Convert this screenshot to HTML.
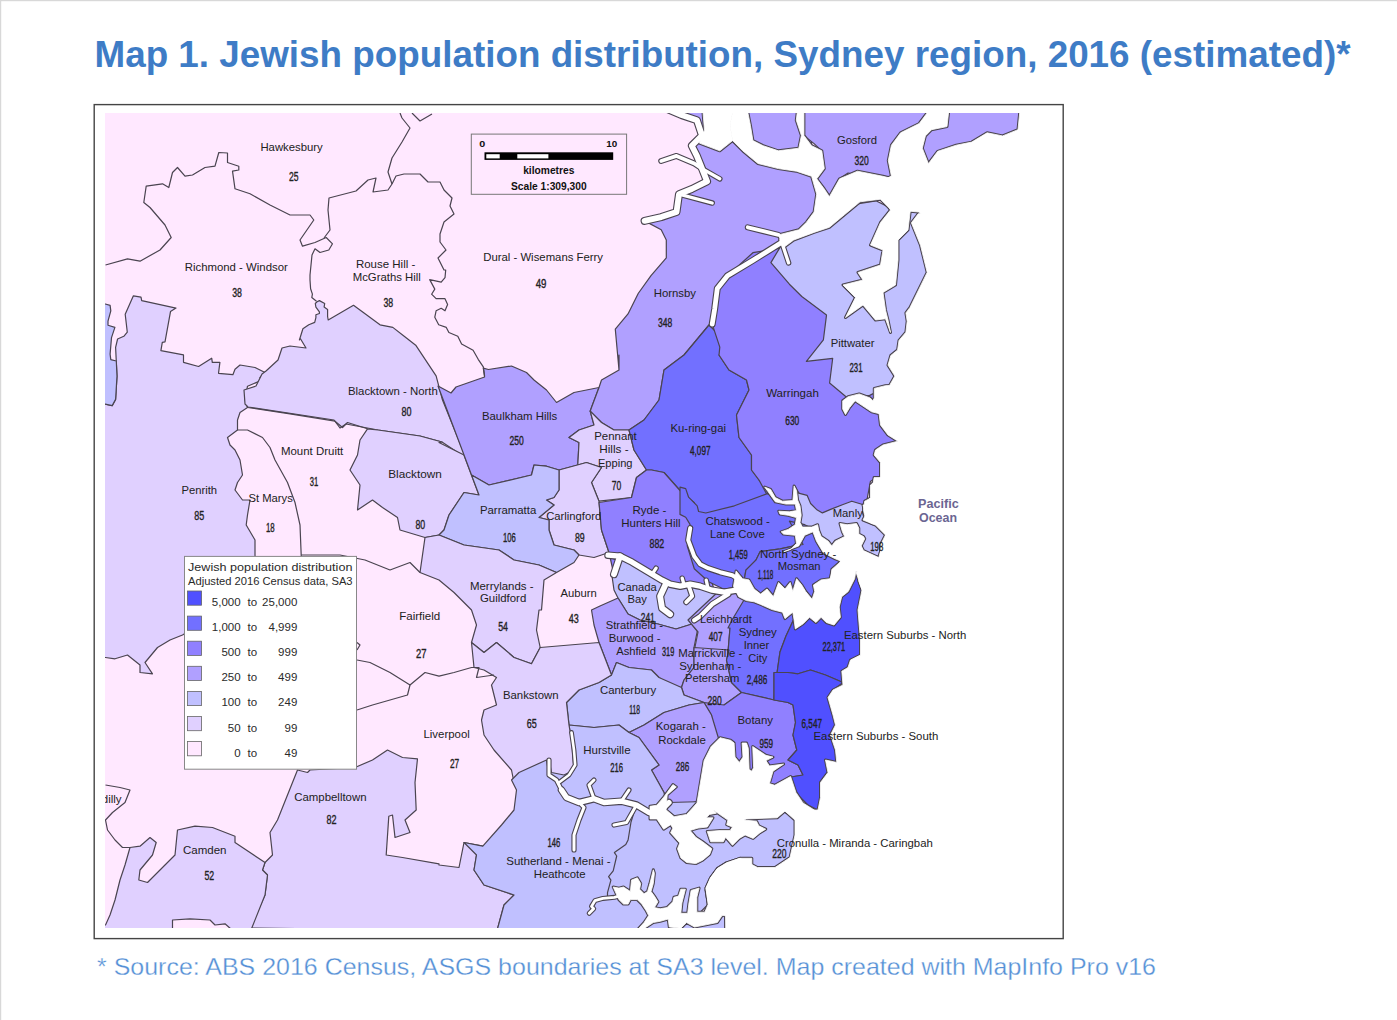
<!DOCTYPE html>
<html><head><meta charset="utf-8"><style>
html,body{margin:0;padding:0;background:#fff;}
body{width:1397px;height:1020px;overflow:hidden;position:relative;}
svg{position:absolute;left:0;top:0;}
text{font-family:"Liberation Sans",sans-serif;}
</style></head><body>
<svg width="1397" height="1020" viewBox="0 0 1397 1020">
<rect x="0" y="0" width="1397" height="1020" fill="#fff"/>
<rect x="0" y="0" width="1397" height="1.2" fill="#d8d8d8"/>
<rect x="0" y="0" width="1.2" height="1020" fill="#d8d8d8"/>
<text x="94.5" y="67" font-size="36" font-weight="bold" fill="#3e7cc6" textLength="1256" lengthAdjust="spacingAndGlyphs">Map 1. Jewish population distribution, Sydney region, 2016 (estimated)*</text>
<text x="97" y="974.5" font-size="24" fill="#5590d6" stroke="#fff" stroke-width="0.3" textLength="1059" lengthAdjust="spacingAndGlyphs">* Source: ABS 2016 Census, ASGS boundaries at SA3 level. Map created with MapInfo Pro v16</text>
<defs><clipPath id="mc"><rect x="105" y="113" width="918" height="815"/></clipPath></defs>
<rect x="94.2" y="104.6" width="969" height="834" fill="#fff" stroke="#444" stroke-width="1.4"/>
<g clip-path="url(#mc)" stroke="#4a4450" stroke-linejoin="round">
<rect x="105" y="113" width="918" height="815" fill="#ffe8ff" stroke="none"/>

<polygon points="117.0,376.1 115.6,347.3 117.6,339.0 123.8,336.3 127.3,332.2 125.2,314.3 133.4,295.8 141.0,297.2 141.7,300.6 176.0,308.1 170.5,311.6 165.0,341.8 162.3,342.4 160.9,350.7 183.5,354.8 183.5,362.3 198.6,366.5 211.7,358.2 212.3,362.3 219.9,362.3 218.5,373.3 232.9,374.7 235.0,369.2 240.0,365.0 255.0,367.5 265.0,372.5 260.0,377.5 262.5,380.0 247.5,386.2 245.0,400.0 247.5,407.5 240.0,412.5 237.5,420.0 237.5,430.0 227.5,437.5 230.0,445.0 235.0,450.0 240.0,460.0 242.5,475.0 237.5,482.5 235.0,490.0 242.5,500.0 250.0,500.0 247.5,515.0 246.2,525.0 255.0,540.0 255.0,555.0 257.5,610.0 250.0,640.0 184.5,633.8 182.5,635.0 170.0,640.0 157.5,647.5 145.0,662.5 152.5,673.8 140.0,672.5 140.0,665.0 127.5,655.0 115.0,658.8 105.5,657.5 90.0,657.5 90.0,405.0 105.3,404.2 112.2,405.6 115.6,399.4" fill="#e0d0ff" stroke-width="1.2"/>
<polygon points="95.0,304.0 105.3,304.0 110.1,305.4 110.8,310.9 108.0,321.2 108.0,325.3 114.9,327.4 111.5,337.6 110.1,354.1 110.8,359.6 116.3,361.0 117.0,376.1 115.6,399.4 112.2,405.6 105.3,404.2 95.0,404.2" fill="#c0c0ff" stroke-width="1.2"/>
<polygon points="299.4,340.0 302.9,328.8 308.8,324.7 314.7,322.4 315.9,317.6 315.9,314.7 319.4,313.5 319.4,311.8 315.9,307.1 315.3,303.5 317.1,301.8 319.4,300.6 324.7,303.5 324.1,307.1 327.6,309.4 327.6,316.5 328.2,320.0 353.5,305.3 380.0,324.8 392.8,327.4 404.2,336.3 415.7,345.2 436.1,375.8 442.5,400.1 466.0,458.0 442.0,442.0 420.0,436.0 378.0,430.0 346.0,424.0 340.0,428.0 334.0,420.0 248.0,407.0 245.0,404.0 244.0,390.0 256.0,386.0 262.0,374.0 266.0,371.0 278.0,360.0 282.0,348.0 290.0,346.0 306.0,348.0 300.0,338.0" fill="#e0d0ff" stroke-width="1.2"/>
<polygon points="367.5,428.8 360.0,440.0 357.5,455.0 350.0,470.0 360.0,485.0 357.5,510.0 372.5,500.0 382.5,507.5 397.5,517.5 400.0,530.0 425.0,537.5 439.0,535.0 444.0,530.0 449.0,515.0 459.0,500.0 464.0,492.5 479.0,495.0 471.5,475.0 464.0,455.0 439.0,442.5 442.0,442.0 420.0,436.0 378.0,430.0" fill="#e0d0ff" stroke-width="1.2"/>
<polygon points="438.0,386.0 451.0,393.0 456.0,387.0 484.6,377.0 483.3,368.2 488.4,369.5 511.5,366.0 526.5,372.5 534.0,380.0 546.5,390.0 556.5,402.5 574.0,392.5 599.0,387.5 591.5,407.5 590.2,411.2 594.0,425.0 579.0,430.0 569.0,437.5 579.0,442.5 577.8,465.0 559.0,470.0 546.5,466.2 534.0,465.0 531.5,475.0 489.0,485.0 471.5,475.0 464.0,455.0" fill="#b0a0ff" stroke-width="1.2"/>
<polygon points="619.0,370.0 615.3,329.2 628.0,313.9 638.2,293.5 651.0,275.7 666.3,257.8 666.3,240.0 661.2,229.8 644.6,220.9 661.2,217.1 676.5,212.0 679.0,194.1 691.8,189.0 707.1,181.4 702.0,168.6 696.9,155.9 691.8,145.7 702.0,135.5 696.9,120.2 681.6,115.1 663.7,110.0 663.7,99.8 811.6,99.8 811.6,173.7 816.7,194.1 814.1,212.0 806.5,222.2 798.8,229.8 778.4,234.9 783.5,247.6 752.9,260.4 727.5,275.7 717.3,288.4 714.7,308.8 712.2,324.1 709.0,325.0 696.5,340.0 684.0,355.0 664.0,370.0 659.0,400.0 644.0,420.0 629.0,430.0 614.0,430.0 601.5,422.5 590.2,411.2 591.5,407.5 599.0,387.5 601.5,380.0 619.0,370.0 619.0,355.0" fill="#b0a0ff" stroke-width="1.2"/>
<polygon points="590.2,411.2 601.5,422.5 614.0,430.0 629.0,430.0 631.5,440.0 634.0,450.0 646.5,470.0 636.5,477.5 631.5,497.5 599.0,501.2 591.5,482.5 601.5,467.5 586.5,462.5 577.8,465.0 579.0,442.5 569.0,437.5 579.0,430.0 594.0,425.0" fill="#e0d0ff" stroke-width="1.2"/>
<polygon points="559.0,470.0 586.5,462.5 601.5,467.5 591.5,482.5 599.0,501.2 601.5,530.0 609.0,552.5 594.0,557.5 579.0,555.0 574.0,550.0 554.0,545.0 549.0,530.0 549.0,520.0 539.0,517.5 554.0,505.0 546.5,500.0 554.0,497.5 559.0,490.0" fill="#e0d0ff" stroke-width="1.2"/>
<polygon points="471.5,475.0 489.0,485.0 531.5,475.0 534.0,465.0 546.5,466.2 559.0,470.0 559.0,490.0 554.0,497.5 546.5,500.0 554.0,505.0 539.0,517.5 549.0,520.0 549.0,530.0 554.0,545.0 574.0,550.0 579.0,555.0 574.0,562.5 556.5,572.5 539.0,565.0 514.0,560.0 499.0,550.0 464.0,545.0 439.0,535.0 444.0,530.0 449.0,515.0 459.0,500.0 464.0,492.5 479.0,495.0" fill="#c0c0ff" stroke-width="1.2"/>
<polygon points="684.0,355.0 664.0,370.0 659.0,400.0 644.0,420.0 629.0,430.0 631.5,440.0 634.0,450.0 646.5,470.0 651.5,470.0 664.0,472.5 684.0,495.0 694.0,502.5 699.0,525.0 709.0,525.0 734.0,520.0 774.0,510.0 771.5,493.8 759.0,480.0 751.5,470.0 751.5,455.0 739.0,437.5 736.5,415.0 749.0,390.0 746.5,380.0 729.0,370.0 719.0,355.0 726.5,355.0 724.0,350.0 719.0,335.0 709.0,325.0 696.5,340.0 684.0,355.0" fill="#7270ff" stroke-width="1.2"/>
<polygon points="719.0,355.0 729.0,370.0 746.5,380.0 749.0,390.0 736.5,415.0 739.0,437.5 751.5,455.0 751.5,470.0 759.0,480.0 766.5,493.8 767.3,492.9 774.5,497.2 783.1,501.5 794.5,500.1 794.5,485.8 798.8,492.9 808.8,505.8 817.4,517.3 831.8,517.3 848.9,514.4 864.7,514.4 867.5,497.2 870.4,481.5 874.7,478.6 930.0,470.0 930.0,300.0 900.0,250.0 860.0,330.0 800.0,270.0 783.5,247.6 752.9,252.7 727.5,275.7 717.3,288.4 714.7,308.8 712.2,324.1 719.8,347.1" fill="#9080ff" stroke-width="1.2"/>
<polygon points="770.9,262.6 780.2,247.1 801.8,234.7 814.1,222.4 832.7,222.4 857.4,203.9 875.9,200.8 888.3,206.9 906.8,210.0 919.2,213.1 931.5,244.0 931.5,321.2 913.0,352.1 894.5,383.0 882.1,389.2 869.7,395.4 848.1,398.5 829.6,383.0 832.7,358.3 806.4,361.4 823.4,339.8 826.5,315.1 801.8,296.5 789.4,284.2" fill="#c0c0ff" stroke-width="1.2"/>
<polygon points="800.2,98.8 800.2,132.8 814.1,143.6 821.9,151.3 823.4,160.6 811.1,176.1 829.6,197.7 838.9,179.1 848.1,173.0 885.2,179.1 891.4,176.1 888.3,160.6 891.4,145.2 900.6,132.8 919.2,123.5 937.7,98.8" fill="#b0a0ff" stroke-width="1.2"/>
<polygon points="950.1,98.8 947.0,126.6 931.5,129.7 925.4,135.9 922.3,148.2 928.4,163.7 937.7,151.3 956.2,145.2 971.7,142.1 987.1,132.8 1002.6,135.9 1018.0,129.7 1021.1,98.8" fill="#b0a0ff" stroke-width="1.2"/>
<polygon points="797.6,492.9 807.1,495.3 810.6,503.5 816.5,509.4 822.4,512.9 830.6,509.4 842.4,504.7 851.8,501.2 863.5,504.7 862.4,511.8 864.7,521.2 871.8,523.5 877.6,524.7 885.9,534.1 884.7,544.7 880.0,552.9 878.8,557.6 863.5,550.6 861.2,545.9 864.7,538.8 863.5,536.5 858.8,534.1 858.8,528.2 856.5,523.5 847.1,524.7 840.0,523.5 842.4,531.8 844.7,536.5 835.3,541.2 831.8,545.9 828.2,541.2 821.2,536.5 818.8,530.6 817.6,524.7 811.8,527.1 802.4,527.1 800.0,522.4 801.2,515.3 800.0,505.9 797.6,500.0 795.3,487.1" fill="#c0c0ff" stroke-width="1.2"/>
<polygon points="646.5,470.0 636.5,477.5 631.5,497.5 599.0,502.5 601.5,530.0 609.0,552.5 614.0,575.0 629.0,590.0 664.0,595.0 689.0,595.0 714.0,590.0 704.0,550.0 689.0,530.0 691.5,520.0 699.0,515.0 694.0,502.5 684.0,495.0 664.0,472.5 651.5,470.0" fill="#9080ff" stroke-width="1.2"/>
<polygon points="680.0,487.2 685.7,488.6 688.6,497.2 697.2,505.8 698.6,511.5 705.8,513.0 734.4,505.8 767.3,493.6 774.5,497.2 783.1,501.5 794.5,501.5 797.4,505.8 798.8,517.3 801.7,527.3 800.3,535.9 794.5,545.9 780.2,548.8 760.2,551.6 755.9,560.2 745.9,570.2 744.4,578.8 737.3,588.8 722.9,588.8 708.6,581.7 694.3,568.8 687.2,545.9 691.5,531.6 690.0,524.4 685.7,517.3 680.0,514.4" fill="#7270ff" stroke-width="1.2"/>
<polygon points="760.2,551.6 780.2,548.8 794.5,545.9 803.1,544.5 789.4,521.2 804.7,524.7 814.1,529.4 821.2,545.9 830.6,555.3 844.7,560.0 842.4,569.4 830.6,580.0 821.2,585.9 812.9,609.4 744.4,600.0 744.4,578.8 745.9,570.2 755.9,560.2" fill="#7270ff" stroke-width="1.2"/>
<polygon points="425.0,537.5 439.0,535.0 464.0,545.0 499.0,550.0 514.0,560.0 539.0,565.0 556.5,572.5 544.0,580.0 541.5,610.0 539.0,610.0 536.5,630.0 540.2,647.5 531.5,663.8 514.0,657.5 496.5,642.5 484.0,652.5 471.5,642.5 476.5,625.0 471.5,610.0 454.0,592.5 439.0,580.0 420.0,572.5 425.0,537.5" fill="#e0d0ff" stroke-width="1.2"/>
<polygon points="606.0,555.0 616.0,560.0 612.0,576.0 614.0,590.0 618.0,598.0 628.0,614.0 640.0,620.0 658.0,624.0 676.0,629.0 692.0,624.0 700.0,620.0 720.0,600.0 736.0,590.0 712.0,590.0 690.0,584.0 670.0,584.0 652.0,574.0 632.0,562.0" fill="#c0c0ff" stroke-width="1.2"/>
<polygon points="600.0,606.0 618.0,598.0 628.0,614.0 640.0,620.0 658.0,624.0 676.0,629.0 692.0,624.0 698.0,632.0 699.0,622.5 694.0,647.5 694.0,667.5 684.0,680.0 681.5,687.5 669.0,685.0 659.0,677.5 651.5,670.0 629.0,667.5 616.5,662.5 611.5,675.0 599.0,642.5 594.0,625.0 591.5,610.0" fill="#b0a0ff" stroke-width="1.2"/>
<polygon points="688.0,620.0 720.0,590.0 740.0,586.0 752.0,600.0 736.0,624.0 730.0,628.0 728.0,652.0 712.0,652.0 694.0,652.0 698.0,632.0" fill="#b0a0ff" stroke-width="1.2"/>
<polygon points="694.0,647.5 729.0,650.0 726.5,660.0 731.5,682.5 741.5,692.5 724.0,705.0 714.0,715.0 704.0,702.5 684.0,695.0 681.5,687.5 684.0,680.0 694.0,667.5" fill="#b0a0ff" stroke-width="1.2"/>
<polygon points="728.0,628.0 732.0,620.0 744.0,600.0 756.0,596.0 760.0,596.0 772.0,596.0 776.0,596.0 780.0,600.0 784.0,600.0 792.0,600.0 794.0,600.0 800.0,606.0 786.0,636.0 780.0,652.0 776.0,680.2 774.0,700.0 741.5,692.5 731.5,682.5 726.5,660.0 729.0,650.0 728.0,652.0 730.0,628.0" fill="#7270ff" stroke-width="1.2"/>
<polygon points="800.0,606.0 812.0,600.0 822.0,600.0 828.0,600.0 832.0,600.0 840.0,600.0 838.0,600.0 840.0,592.0 852.0,570.0 862.0,570.0 862.0,590.0 859.2,625.0 860.5,640.0 860.5,655.0 850.5,660.0 848.0,667.5 841.8,671.2 843.0,682.5 825.5,675.0 810.5,670.0 798.0,673.8 788.0,672.5 774.0,672.5 774.0,700.0 776.0,680.2 780.0,652.0 786.0,636.0" fill="#5050ff" stroke-width="1.2"/>
<polygon points="704.0,702.5 724.0,705.0 741.5,692.5 774.0,700.0 788.0,702.5 793.0,705.0 795.5,722.5 793.0,735.0 796.8,750.0 788.0,760.0 798.0,765.0 803.0,775.0 788.0,777.5 778.0,790.0 788.0,835.0 711.5,835.0 711.5,715.0" fill="#9080ff" stroke-width="1.2"/>
<polygon points="774.0,672.5 788.0,672.5 798.0,673.8 810.5,670.0 825.5,675.0 843.0,682.5 833.0,690.0 828.0,697.5 833.0,715.0 835.5,725.0 830.5,735.0 835.5,750.0 836.8,762.5 825.5,760.0 828.0,772.5 820.5,782.5 820.5,797.5 818.0,810.0 808.0,805.0 798.0,795.0 793.0,785.0 788.0,777.5 803.0,775.0 798.0,765.0 788.0,760.0 796.8,750.0 793.0,735.0 795.5,722.5 793.0,705.0 788.0,702.5 774.0,700.0" fill="#5050ff" stroke-width="1.2"/>
<polygon points="566.5,702.5 579.0,690.0 599.0,682.5 611.5,675.0 616.5,662.5 629.0,667.5 651.5,670.0 659.0,677.5 681.5,687.5 684.0,695.0 704.0,702.5 689.0,705.0 664.0,712.5 644.0,725.0 629.0,732.5 619.0,725.0 594.0,727.5 569.0,725.0" fill="#c0c0ff" stroke-width="1.2"/>
<polygon points="629.0,732.5 644.0,725.0 664.0,712.5 689.0,705.0 704.0,702.5 711.5,715.0 719.0,740.0 704.0,765.0 699.0,800.0 676.5,810.0 671.5,815.0 664.0,792.5 651.5,770.0 659.0,765.0 639.0,737.5" fill="#b0a0ff" stroke-width="1.2"/>
<polygon points="569.0,725.0 594.0,727.5 619.0,725.0 629.0,732.5 639.0,737.5 659.0,765.0 651.5,770.0 664.0,792.5 671.5,830.0 659.0,830.0 651.5,830.0 639.0,825.0 626.5,825.0 599.0,825.0 579.0,825.0 561.5,820.0 559.0,805.0 546.5,785.0 549.0,760.0 571.5,740.0" fill="#c0c0ff" stroke-width="1.2"/>
<polygon points="484.0,652.5 496.5,642.5 514.0,657.5 531.5,663.8 540.2,647.5 599.0,642.5 611.5,675.0 599.0,682.5 579.0,690.0 566.5,702.5 569.0,725.0 571.5,740.0 574.0,770.0 564.0,775.0 551.5,772.5 549.0,760.0 544.0,780.0 531.5,785.0 514.0,782.5 511.5,770.0 494.0,750.0 484.0,735.0 481.5,720.0 484.0,710.0 496.5,705.0 491.5,685.0 496.5,677.5 484.0,670.0 474.0,667.5 471.5,642.5" fill="#e0d0ff" stroke-width="1.2"/>
<polygon points="250.0,928.0 265.0,895.0 267.5,875.0 262.5,870.0 265.0,862.5 272.5,855.0 270.0,832.5 277.5,820.0 297.5,770.0 307.5,772.5 310.0,770.0 355.0,767.5 372.5,760.0 387.5,750.0 402.5,757.5 417.5,758.8 415.0,782.5 416.2,810.0 405.0,820.0 410.0,832.5 395.0,837.5 392.5,815.0 388.8,816.2 386.2,855.0 402.5,857.5 439.0,863.8 439.0,865.0 459.0,867.5 464.0,842.5 482.8,846.2 476.5,855.0 474.0,870.0 484.0,885.0 514.0,895.0 504.0,905.0 496.5,932.5 599.0,932.5" fill="#e0d0ff" stroke-width="1.2"/>
<polygon points="90.0,932.5 90.0,925.0 105.5,925.0 110.0,915.0 115.0,900.0 120.0,880.0 125.0,865.0 130.0,847.5 140.0,846.2 150.0,837.5 156.2,842.5 152.5,855.0 140.0,870.0 138.8,880.0 147.5,882.5 160.0,870.0 175.0,855.0 177.5,830.0 195.0,826.2 212.5,827.5 235.0,836.2 235.0,842.5 265.0,862.5 262.5,870.0 267.5,875.0 265.0,895.0 250.0,932.5" fill="#e0d0ff" stroke-width="1.2"/>
<polygon points="172.5,920.0 190.0,918.8 210.0,920.0 215.0,925.0 225.0,923.8 235.0,932.5 172.5,932.5" fill="#ffe8ff" stroke-width="1.2"/>
<polygon points="464.0,842.5 482.8,846.2 501.5,825.0 514.0,810.0 516.5,790.0 511.5,780.0 519.0,772.5 546.5,760.0 549.0,775.0 556.5,780.0 561.5,790.0 566.5,797.5 579.0,802.5 594.0,798.8 604.0,802.5 621.5,801.2 636.5,805.0 649.0,812.5 656.5,815.0 669.0,802.5 760.0,800.0 800.0,820.0 795.0,820.0 795.0,835.0 790.0,857.5 775.0,867.5 757.5,867.5 742.5,862.5 725.0,867.5 710.0,880.0 705.0,890.0 707.5,905.0 700.0,912.5 725.2,915.0 725.2,932.5 496.5,932.5 504.0,905.0 514.0,895.0 484.0,885.0 474.0,870.0 476.5,855.0" fill="#c0c0ff" stroke-width="1.2"/>
<polyline points="105.5,265.0 127.5,258.8 140.0,261.2 160.0,250.0 171.2,237.5 165.0,225.0 150.0,207.5 143.8,202.5 146.2,186.2 162.5,183.8 168.8,187.5 172.5,172.5 177.5,167.5 185.0,176.2 192.5,175.0 205.0,167.5 215.0,166.2 218.8,152.5 227.5,153.0 227.5,162.5 238.8,166.2 238.8,170.0 232.5,171.2 235.0,188.8 250.0,193.8 270.0,205.0 290.0,215.0 310.0,215.0 313.8,220.0 300.0,240.0 302.5,246.2 315.0,242.5 326.2,237.5 332.5,243.8 328.8,250.0 320.0,252.5 315.0,248.8 312.0,255.0 310.0,275.0 310.0,280.0 310.6,288.8 312.4,294.1 311.8,297.6 316.5,301.2" fill="none" stroke-width="1.2"/>
<polyline points="324.0,238.0 330.0,230.0 328.0,210.0 329.0,198.0 356.0,191.0 368.0,180.0 376.0,178.0 373.0,192.0 388.0,190.0 392.0,184.0 396.0,176.0 404.0,174.0 420.0,174.0 428.0,182.0 440.0,182.0 444.0,190.0 452.0,198.0 450.0,206.0 454.0,214.0 444.0,222.0 440.0,234.0 440.0,242.0 446.0,250.0 438.0,258.0 444.0,270.0 445.7,270.0 445.0,277.7 441.2,282.1 429.7,279.6 434.8,289.1 431.6,294.2 436.1,298.7 445.0,298.7 447.6,304.4 445.0,310.8 441.2,308.3 436.1,310.8 434.8,317.2 438.7,324.8 446.3,327.4 448.9,332.5 457.8,336.3 461.6,344.0 473.1,350.3 478.2,359.3 483.3,366.9 484.6,375.8" fill="none" stroke-width="1.2"/>
<polyline points="392.0,184.0 388.0,172.0 392.0,158.0 402.0,142.0 410.0,128.0 402.0,118.0 400.0,113.0" fill="none" stroke-width="1.2"/>
<polyline points="412.0,113.0 420.0,121.0 432.0,114.0" fill="none" stroke-width="1.2"/>
<polyline points="237.5,430.0 247.5,430.0 262.5,437.5 270.0,447.5 275.0,460.0 287.5,482.5 295.0,502.5 300.0,525.0 301.2,555.0 302.0,580.0" fill="none" stroke-width="1.2"/>
<polyline points="247.5,407.5 290.0,413.8 335.0,421.2 342.5,427.5 347.5,422.5 367.5,428.8" fill="none" stroke-width="1.2"/>
<polyline points="301.2,555.0 340.0,555.0 365.0,560.0 390.0,570.0 410.0,562.5 420.0,572.5" fill="none" stroke-width="1.2"/>
<polyline points="357.0,642.5 360.0,645.0 357.0,650.0" fill="none" stroke-width="1.2"/>
<polyline points="357.0,660.0 370.0,662.5 390.0,672.5 410.0,685.0 425.0,672.5 439.0,676.2 454.0,672.5 471.5,667.5 479.0,667.5 476.5,677.5 494.0,675.0" fill="none" stroke-width="1.2"/>
<polyline points="357.0,710.0 372.5,705.0 390.0,700.0 407.5,695.0 410.0,685.0" fill="none" stroke-width="1.2"/>
<polyline points="636.0,806.0 631.0,822.0 628.1,840.0 625.8,844.6 614.4,852.6 616.7,856.0 613.2,870.9 608.6,876.7 610.9,880.1 607.5,892.7 607.5,897.3" fill="none" stroke-width="1.2"/>
<polyline points="105.5,785.0 120.0,787.5 130.0,790.0 125.0,802.5 112.5,812.5 105.5,820.0 107.5,830.0 115.0,840.0 122.5,847.5 130.0,847.5" fill="none" stroke-width="1.2"/>
<polygon points="1100.0,90.0 1100.0,950.0 726.0,950.0 725.5,915.6 708.3,904.1 706.0,888.1 710.6,877.8 717.4,868.6 726.6,862.9 740.0,858.3 757.5,867.5 775.0,867.5 790.0,857.5 795.0,835.0 795.0,820.0 785.0,811.2 818.0,810.0 820.5,797.5 820.5,782.5 828.0,772.5 825.5,760.0 836.8,762.5 835.5,750.0 830.5,735.0 835.5,725.0 833.0,715.0 828.0,697.5 833.0,690.0 843.0,685.0 841.8,671.2 848.0,667.5 850.5,660.0 860.5,655.0 860.5,640.0 859.2,625.0 858.0,610.0 862.0,590.0 856.0,572.0 880.5,557.5 880.5,545.0 885.5,535.0 875.5,525.0 863.0,520.0 865.5,515.0 863.0,505.0 865.5,505.0 870.5,497.5 870.5,485.0 880.5,477.5 880.5,462.5 874.2,455.0 875.5,450.0 883.0,445.0 898.0,441.2 888.0,435.0 880.5,425.0 878.0,405.0 885.5,386.2 889.4,385.7 894.9,376.1 888.0,365.1 890.8,355.5 897.6,350.0 899.0,340.4 905.9,332.2 907.2,321.2 905.9,312.9 910.0,307.4 927.2,272.4 920.5,245.3 911.4,222.8 918.2,213.8 952.0,209.3 1000.0,180.0 1100.0,150.0" fill="#fff" stroke-width="3.0"/>
<polygon points="702.0,99.8 735.1,99.8 730.0,125.3 732.6,140.6 719.8,150.8 699.4,143.1 704.5,130.4" fill="#fff" stroke-width="3.0"/>
<polygon points="732.6,140.6 742.7,150.8 758.0,163.5 778.4,168.6 796.3,171.2 811.6,176.3 816.7,194.1 814.1,212.0 806.5,222.2 798.8,229.8 778.4,234.9 783.5,247.6 793.7,240.0 814.1,232.4 829.4,227.3 844.7,214.5 860.0,201.8 880.4,199.2 890.6,209.4 918.6,212.0 950.0,232.4 950.0,173.7 893.1,178.8 882.9,176.3 857.5,171.2 839.6,178.8 829.4,196.7 824.3,189.0 816.7,178.8 824.3,168.6 821.8,150.8 811.6,145.7 803.9,135.5 803.9,99.8 798.8,99.8 796.3,120.2 801.4,135.5 798.8,148.2 778.4,150.8 763.1,145.7 752.9,140.6 750.4,125.3 745.3,99.8 735.1,99.8 730.0,125.3" fill="#fff" stroke-width="3.0"/>
<polygon points="891.4,145.2 900.6,132.8 919.2,123.5 937.7,98.8 950.1,98.8 947.0,126.6 931.5,129.7 925.4,135.9 922.3,148.2 928.4,163.7 937.7,151.3 956.2,145.2 971.7,142.1 987.1,132.8 1002.6,135.9 1018.0,129.7 1021.1,98.8 1048.9,98.8 1048.9,216.2 956.2,211.6 925.4,203.9 885.2,179.1 891.4,176.1 888.3,160.6" fill="#fff" stroke-width="3.0"/>
<polygon points="842.7,400.8 848.2,396.7 859.2,393.9 870.2,398.0 872.9,400.8 874.3,398.0 874.3,388.4 885.3,385.7 889.4,385.7 893.5,417.2 871.6,411.8 855.1,400.8 849.6,407.6 845.5,414.5 842.7,409.0" fill="#fff" stroke-width="3.0"/>
<polygon points="888.0,205.0 890.5,210.0 880.5,222.5 870.5,245.0 883.0,250.0 880.5,265.0 858.0,272.5 863.0,280.0 843.0,285.0 855.5,297.5 845.5,317.5 863.0,305.0 875.5,320.0 885.5,318.8 890.5,332.5 888.0,320.0 885.5,310.0 883.0,292.5 895.5,285.0 898.0,260.0 898.0,240.0 908.0,230.0 910.5,208.8 905.0,198.0" fill="#fff" stroke-width="3.0"/>
<polygon points="736.1,570.9 742.5,578.7 749.0,579.9 754.1,589.0 760.6,594.1 767.0,589.0 773.4,596.7 778.6,582.5 785.0,589.0 790.2,582.5 792.8,591.5 796.6,578.7 801.8,585.1 805.7,591.5 812.1,599.3 814.7,591.5 813.4,585.1 821.1,579.9 830.1,578.7 832.7,569.6 839.2,564.5 841.7,558.0 854.6,552.9 867.5,559.3 855.9,570.9 854.6,578.7 848.2,591.5 841.7,596.7 839.2,607.0 840.4,617.3 834.0,625.0 826.3,622.5 821.1,617.3 816.0,622.5 809.5,617.3 803.1,623.8 795.3,628.9 794.1,619.9 792.8,612.2 785.0,618.6 782.5,612.2 772.2,609.6 760.6,604.4 754.1,601.8 746.4,600.6 738.7,596.7 733.5,586.4" fill="#fff" stroke-width="3.0"/>
<polygon points="764.7,487.1 770.6,489.4 775.3,497.6 782.4,501.2 792.9,500.6 794.1,485.9 796.5,490.6 797.6,500.0 800.0,505.9 801.2,515.3 800.0,522.4 802.4,527.1 811.8,527.1 817.6,524.7 818.8,530.6 821.2,536.5 828.2,541.2 831.8,545.9 835.3,541.2 844.7,536.5 842.4,531.8 840.0,523.5 847.1,524.7 856.5,523.5 858.8,528.2 858.8,534.1 863.5,536.5 864.7,538.8 861.2,545.9 863.5,550.6 878.8,557.6 880.0,552.9 884.7,544.7 885.9,534.1 877.6,524.7 871.8,523.5 865.9,520.0 863.5,510.6 864.7,501.2 871.8,497.6 872.9,484.7 874.1,477.6 907.1,477.6 907.1,609.4 862.4,609.4 862.4,590.6 858.8,581.2 860.0,571.8 854.1,570.6 852.9,581.2 842.4,591.8 835.3,609.4 812.9,609.4 815.3,591.8 821.2,583.5 830.6,580.0 831.8,569.4 841.2,561.2 835.3,558.8 823.5,552.9 816.5,541.2 812.9,531.8 804.7,535.3 798.8,545.9 783.5,551.8 790.6,549.4 796.5,543.5 795.3,535.3 783.5,534.1 781.2,531.8 788.2,529.4 795.3,524.7 796.5,517.6 788.2,515.3 780.0,514.1 778.8,511.2 789.4,511.8 796.5,510.6 795.3,504.1 785.9,504.1 775.3,501.8 768.2,491.8" fill="#fff" stroke-width="3.0"/>
<polygon points="720.0,737.7 730.6,740.3 734.1,743.0 735.0,757.1 739.4,762.4 743.0,757.1 742.1,743.0 746.5,743.0 748.3,748.3 749.1,769.4 751.8,771.2 753.6,767.7 752.7,746.5 765.9,755.3 773.0,757.1 765.9,760.6 769.4,765.9 783.6,764.1 773.0,771.2 769.4,783.6 774.7,785.3 790.6,776.5 795.9,792.4 803.0,803.0 817.1,811.8 836.5,813.6 796.6,814.4 792.0,814.4 785.2,810.9 777.1,817.8 746.2,818.9 743.9,820.1 756.5,821.2 758.8,825.8 765.7,829.2 760.0,832.7 753.1,838.4 745.1,835.0 739.3,838.4 732.5,845.3 725.6,837.3 723.3,841.8 710.7,841.8 707.3,831.5 721.0,830.4 730.2,830.4 732.5,827.0 726.7,824.7 727.9,820.1 713.0,809.8 716.4,813.2 709.6,814.4 706.1,817.8 713.0,817.8 707.3,827.0 698.1,828.1 690.1,830.4 695.8,837.3 702.7,841.8 711.8,848.7 709.6,854.4 702.7,860.2 695.8,863.6 686.7,862.5 680.9,857.9 677.5,848.7 679.8,843.0 670.6,832.7 672.9,828.1 670.6,824.7 663.7,829.2 656.9,818.9 650.0,818.9 650.0,806.3 656.9,805.2 663.7,797.2 672.9,784.6 676.3,786.9 667.2,794.9 666.0,809.8 674.1,816.7 686.7,814.4 697.0,802.9 704.1,760.6 711.2,746.5" fill="#fff" stroke-width="3.0"/>
<polygon points="613.2,887.0 618.9,888.1 623.5,887.0 630.4,891.5 631.5,880.1 637.3,877.8 640.7,883.5 639.6,889.2 644.1,893.8 647.6,891.5 649.9,883.5 653.3,869.8 654.4,873.2 653.3,883.5 651.0,891.5 654.4,896.1 657.9,901.8 654.4,907.6 660.2,908.7 667.0,907.6 672.8,901.8 673.9,897.3 678.5,896.1 680.8,889.2 685.4,889.2 681.9,903.0 680.8,913.3 687.7,913.3 688.8,904.1 691.1,890.4 699.1,888.1 696.8,897.3 696.8,912.2 704.8,912.2 708.3,904.1 706.0,888.1 710.6,877.8 717.4,868.6 726.6,862.9 740.0,858.3 751.8,858.3 751.8,915.6 725.5,915.6 722.0,915.6 717.4,922.5 706.0,924.8 694.5,927.0 686.5,922.5 680.8,928.2 669.3,927.0 668.2,919.0 660.2,921.3 653.3,922.5 646.4,927.0 637.3,933.9 633.8,933.9 644.1,922.5 648.7,915.6 646.4,911.0 641.8,904.1 637.3,899.6 630.4,899.6 628.1,904.1 623.5,904.1 618.9,899.6" fill="#fff" stroke-width="3.0"/>
<polyline points="644.6,220.9 661.2,217.1 676.5,212.0 679.0,194.1 691.8,189.0 707.1,181.4 702.0,168.6 696.9,155.9 691.8,145.7 702.0,135.5 696.9,120.2 681.6,115.1 663.7,107.5" fill="none" stroke-width="8.0" stroke-linecap="round"/>
<polyline points="661.2,161.0 676.5,155.9 694.3,163.5 702.0,168.6" fill="none" stroke-width="6.0" stroke-linecap="round"/>
<polyline points="702.0,168.6 719.8,178.8" fill="none" stroke-width="5.5" stroke-linecap="round"/>
<polyline points="679.0,194.1 712.2,203.0" fill="none" stroke-width="5.5" stroke-linecap="round"/>
<polyline points="783.5,241.3 752.9,260.4 727.5,275.7 717.3,288.4 714.7,308.8 712.2,324.1" fill="none" stroke-width="7.0" stroke-linecap="round"/>
<polyline points="781.0,240.0 788.6,262.9" fill="none" stroke-width="5.5" stroke-linecap="round"/>
<polyline points="747.8,227.3 778.4,234.9" fill="none" stroke-width="6.0" stroke-linecap="round"/>
<polyline points="608.0,555.2 620.0,556.2 632.1,562.2 642.1,568.2 652.1,574.2 662.1,580.2 670.1,584.2 680.2,586.2 690.2,584.2 700.2,586.2 712.2,590.2 724.2,592.2 736.3,590.2 744.3,592.2" fill="none" stroke-width="7.5" stroke-linecap="round"/>
<polyline points="666.1,583.2 660.1,596.2 662.1,608.3 670.1,614.3" fill="none" stroke-width="8.0" stroke-linecap="round"/>
<polyline points="688.2,584.2 692.2,596.2 686.2,602.2" fill="none" stroke-width="6.0" stroke-linecap="round"/>
<polyline points="728.3,594.2 712.2,604.2 700.2,616.3 694.2,620.3" fill="none" stroke-width="6.5" stroke-linecap="round"/>
<polyline points="620.0,556.2 614.0,574.2" fill="none" stroke-width="8.0" stroke-linecap="round"/>
<polyline points="690.2,528.1 688.2,540.1 694.2,556.2 700.2,564.2 708.2,568.2 720.2,572.2 732.3,575.2 740.3,580.2 744.3,586.2" fill="none" stroke-width="6.2" stroke-linecap="round"/>
<polyline points="652.1,574.2 656.1,568.2" fill="none" stroke-width="5.5" stroke-linecap="round"/>
<polyline points="708.2,589.2 706.2,580.2" fill="none" stroke-width="5.5" stroke-linecap="round"/>
<polyline points="684.2,585.2 682.2,578.2" fill="none" stroke-width="5.5" stroke-linecap="round"/>
<polyline points="549.0,760.0 549.0,775.0 556.5,780.0 561.5,790.0" fill="none" stroke-width="5.2" stroke-linecap="round"/>
<polyline points="561.5,790.0 566.5,797.5 579.0,802.5 594.0,798.8 604.0,802.5 621.5,801.2 636.5,805.0 649.0,812.5 656.5,815.0 669.0,802.5" fill="none" stroke-width="7.5" stroke-linecap="round"/>
<polyline points="579.0,802.5 584.0,807.5 579.0,820.0 574.0,835.0 574.0,850.0" fill="none" stroke-width="5.2" stroke-linecap="round"/>
<polyline points="594.0,798.8 589.0,785.0 594.0,780.0" fill="none" stroke-width="5.2" stroke-linecap="round"/>
<polyline points="621.5,801.2 629.0,790.0" fill="none" stroke-width="5.2" stroke-linecap="round"/>
<polyline points="636.5,805.0 626.5,822.5 614.0,825.0" fill="none" stroke-width="5.2" stroke-linecap="round"/>
<polyline points="571.5,732.5 574.0,750.0 575.2,765.0 569.0,775.0 559.0,782.5" fill="none" stroke-width="4.8" stroke-linecap="round"/>
<polyline points="589.2,913.3 593.7,908.7 591.5,906.4 594.9,900.7 602.9,898.4 614.4,897.3 618.9,896.1 621.2,897.3" fill="none" stroke-width="5.0" stroke-linecap="round"/>
<polygon points="1100.0,90.0 1100.0,950.0 726.0,950.0 725.5,915.6 708.3,904.1 706.0,888.1 710.6,877.8 717.4,868.6 726.6,862.9 740.0,858.3 757.5,867.5 775.0,867.5 790.0,857.5 795.0,835.0 795.0,820.0 785.0,811.2 818.0,810.0 820.5,797.5 820.5,782.5 828.0,772.5 825.5,760.0 836.8,762.5 835.5,750.0 830.5,735.0 835.5,725.0 833.0,715.0 828.0,697.5 833.0,690.0 843.0,685.0 841.8,671.2 848.0,667.5 850.5,660.0 860.5,655.0 860.5,640.0 859.2,625.0 858.0,610.0 862.0,590.0 856.0,572.0 880.5,557.5 880.5,545.0 885.5,535.0 875.5,525.0 863.0,520.0 865.5,515.0 863.0,505.0 865.5,505.0 870.5,497.5 870.5,485.0 880.5,477.5 880.5,462.5 874.2,455.0 875.5,450.0 883.0,445.0 898.0,441.2 888.0,435.0 880.5,425.0 878.0,405.0 885.5,386.2 889.4,385.7 894.9,376.1 888.0,365.1 890.8,355.5 897.6,350.0 899.0,340.4 905.9,332.2 907.2,321.2 905.9,312.9 910.0,307.4 927.2,272.4 920.5,245.3 911.4,222.8 918.2,213.8 952.0,209.3 1000.0,180.0 1100.0,150.0" fill="#fff" stroke="#fff" stroke-width="0.8"/>
<polygon points="702.0,99.8 735.1,99.8 730.0,125.3 732.6,140.6 719.8,150.8 699.4,143.1 704.5,130.4" fill="#fff" stroke="#fff" stroke-width="0.8"/>
<polygon points="732.6,140.6 742.7,150.8 758.0,163.5 778.4,168.6 796.3,171.2 811.6,176.3 816.7,194.1 814.1,212.0 806.5,222.2 798.8,229.8 778.4,234.9 783.5,247.6 793.7,240.0 814.1,232.4 829.4,227.3 844.7,214.5 860.0,201.8 880.4,199.2 890.6,209.4 918.6,212.0 950.0,232.4 950.0,173.7 893.1,178.8 882.9,176.3 857.5,171.2 839.6,178.8 829.4,196.7 824.3,189.0 816.7,178.8 824.3,168.6 821.8,150.8 811.6,145.7 803.9,135.5 803.9,99.8 798.8,99.8 796.3,120.2 801.4,135.5 798.8,148.2 778.4,150.8 763.1,145.7 752.9,140.6 750.4,125.3 745.3,99.8 735.1,99.8 730.0,125.3" fill="#fff" stroke="#fff" stroke-width="0.8"/>
<polygon points="891.4,145.2 900.6,132.8 919.2,123.5 937.7,98.8 950.1,98.8 947.0,126.6 931.5,129.7 925.4,135.9 922.3,148.2 928.4,163.7 937.7,151.3 956.2,145.2 971.7,142.1 987.1,132.8 1002.6,135.9 1018.0,129.7 1021.1,98.8 1048.9,98.8 1048.9,216.2 956.2,211.6 925.4,203.9 885.2,179.1 891.4,176.1 888.3,160.6" fill="#fff" stroke="#fff" stroke-width="0.8"/>
<polygon points="842.7,400.8 848.2,396.7 859.2,393.9 870.2,398.0 872.9,400.8 874.3,398.0 874.3,388.4 885.3,385.7 889.4,385.7 893.5,417.2 871.6,411.8 855.1,400.8 849.6,407.6 845.5,414.5 842.7,409.0" fill="#fff" stroke="#fff" stroke-width="0.8"/>
<polygon points="888.0,205.0 890.5,210.0 880.5,222.5 870.5,245.0 883.0,250.0 880.5,265.0 858.0,272.5 863.0,280.0 843.0,285.0 855.5,297.5 845.5,317.5 863.0,305.0 875.5,320.0 885.5,318.8 890.5,332.5 888.0,320.0 885.5,310.0 883.0,292.5 895.5,285.0 898.0,260.0 898.0,240.0 908.0,230.0 910.5,208.8 905.0,198.0" fill="#fff" stroke="#fff" stroke-width="0.8"/>
<polygon points="736.1,570.9 742.5,578.7 749.0,579.9 754.1,589.0 760.6,594.1 767.0,589.0 773.4,596.7 778.6,582.5 785.0,589.0 790.2,582.5 792.8,591.5 796.6,578.7 801.8,585.1 805.7,591.5 812.1,599.3 814.7,591.5 813.4,585.1 821.1,579.9 830.1,578.7 832.7,569.6 839.2,564.5 841.7,558.0 854.6,552.9 867.5,559.3 855.9,570.9 854.6,578.7 848.2,591.5 841.7,596.7 839.2,607.0 840.4,617.3 834.0,625.0 826.3,622.5 821.1,617.3 816.0,622.5 809.5,617.3 803.1,623.8 795.3,628.9 794.1,619.9 792.8,612.2 785.0,618.6 782.5,612.2 772.2,609.6 760.6,604.4 754.1,601.8 746.4,600.6 738.7,596.7 733.5,586.4" fill="#fff" stroke="#fff" stroke-width="0.8"/>
<polygon points="764.7,487.1 770.6,489.4 775.3,497.6 782.4,501.2 792.9,500.6 794.1,485.9 796.5,490.6 797.6,500.0 800.0,505.9 801.2,515.3 800.0,522.4 802.4,527.1 811.8,527.1 817.6,524.7 818.8,530.6 821.2,536.5 828.2,541.2 831.8,545.9 835.3,541.2 844.7,536.5 842.4,531.8 840.0,523.5 847.1,524.7 856.5,523.5 858.8,528.2 858.8,534.1 863.5,536.5 864.7,538.8 861.2,545.9 863.5,550.6 878.8,557.6 880.0,552.9 884.7,544.7 885.9,534.1 877.6,524.7 871.8,523.5 865.9,520.0 863.5,510.6 864.7,501.2 871.8,497.6 872.9,484.7 874.1,477.6 907.1,477.6 907.1,609.4 862.4,609.4 862.4,590.6 858.8,581.2 860.0,571.8 854.1,570.6 852.9,581.2 842.4,591.8 835.3,609.4 812.9,609.4 815.3,591.8 821.2,583.5 830.6,580.0 831.8,569.4 841.2,561.2 835.3,558.8 823.5,552.9 816.5,541.2 812.9,531.8 804.7,535.3 798.8,545.9 783.5,551.8 790.6,549.4 796.5,543.5 795.3,535.3 783.5,534.1 781.2,531.8 788.2,529.4 795.3,524.7 796.5,517.6 788.2,515.3 780.0,514.1 778.8,511.2 789.4,511.8 796.5,510.6 795.3,504.1 785.9,504.1 775.3,501.8 768.2,491.8" fill="#fff" stroke="#fff" stroke-width="0.8"/>
<polygon points="720.0,737.7 730.6,740.3 734.1,743.0 735.0,757.1 739.4,762.4 743.0,757.1 742.1,743.0 746.5,743.0 748.3,748.3 749.1,769.4 751.8,771.2 753.6,767.7 752.7,746.5 765.9,755.3 773.0,757.1 765.9,760.6 769.4,765.9 783.6,764.1 773.0,771.2 769.4,783.6 774.7,785.3 790.6,776.5 795.9,792.4 803.0,803.0 817.1,811.8 836.5,813.6 796.6,814.4 792.0,814.4 785.2,810.9 777.1,817.8 746.2,818.9 743.9,820.1 756.5,821.2 758.8,825.8 765.7,829.2 760.0,832.7 753.1,838.4 745.1,835.0 739.3,838.4 732.5,845.3 725.6,837.3 723.3,841.8 710.7,841.8 707.3,831.5 721.0,830.4 730.2,830.4 732.5,827.0 726.7,824.7 727.9,820.1 713.0,809.8 716.4,813.2 709.6,814.4 706.1,817.8 713.0,817.8 707.3,827.0 698.1,828.1 690.1,830.4 695.8,837.3 702.7,841.8 711.8,848.7 709.6,854.4 702.7,860.2 695.8,863.6 686.7,862.5 680.9,857.9 677.5,848.7 679.8,843.0 670.6,832.7 672.9,828.1 670.6,824.7 663.7,829.2 656.9,818.9 650.0,818.9 650.0,806.3 656.9,805.2 663.7,797.2 672.9,784.6 676.3,786.9 667.2,794.9 666.0,809.8 674.1,816.7 686.7,814.4 697.0,802.9 704.1,760.6 711.2,746.5" fill="#fff" stroke="#fff" stroke-width="0.8"/>
<polygon points="613.2,887.0 618.9,888.1 623.5,887.0 630.4,891.5 631.5,880.1 637.3,877.8 640.7,883.5 639.6,889.2 644.1,893.8 647.6,891.5 649.9,883.5 653.3,869.8 654.4,873.2 653.3,883.5 651.0,891.5 654.4,896.1 657.9,901.8 654.4,907.6 660.2,908.7 667.0,907.6 672.8,901.8 673.9,897.3 678.5,896.1 680.8,889.2 685.4,889.2 681.9,903.0 680.8,913.3 687.7,913.3 688.8,904.1 691.1,890.4 699.1,888.1 696.8,897.3 696.8,912.2 704.8,912.2 708.3,904.1 706.0,888.1 710.6,877.8 717.4,868.6 726.6,862.9 740.0,858.3 751.8,858.3 751.8,915.6 725.5,915.6 722.0,915.6 717.4,922.5 706.0,924.8 694.5,927.0 686.5,922.5 680.8,928.2 669.3,927.0 668.2,919.0 660.2,921.3 653.3,922.5 646.4,927.0 637.3,933.9 633.8,933.9 644.1,922.5 648.7,915.6 646.4,911.0 641.8,904.1 637.3,899.6 630.4,899.6 628.1,904.1 623.5,904.1 618.9,899.6" fill="#fff" stroke="#fff" stroke-width="0.8"/>
<polyline points="644.6,220.9 661.2,217.1 676.5,212.0 679.0,194.1 691.8,189.0 707.1,181.4 702.0,168.6 696.9,155.9 691.8,145.7 702.0,135.5 696.9,120.2 681.6,115.1 663.7,107.5" fill="none" stroke="#fff" stroke-width="5.8" stroke-linecap="round"/>
<polyline points="661.2,161.0 676.5,155.9 694.3,163.5 702.0,168.6" fill="none" stroke="#fff" stroke-width="3.8" stroke-linecap="round"/>
<polyline points="702.0,168.6 719.8,178.8" fill="none" stroke="#fff" stroke-width="3.3" stroke-linecap="round"/>
<polyline points="679.0,194.1 712.2,203.0" fill="none" stroke="#fff" stroke-width="3.3" stroke-linecap="round"/>
<polyline points="783.5,241.3 752.9,260.4 727.5,275.7 717.3,288.4 714.7,308.8 712.2,324.1" fill="none" stroke="#fff" stroke-width="4.8" stroke-linecap="round"/>
<polyline points="781.0,240.0 788.6,262.9" fill="none" stroke="#fff" stroke-width="3.3" stroke-linecap="round"/>
<polyline points="747.8,227.3 778.4,234.9" fill="none" stroke="#fff" stroke-width="3.8" stroke-linecap="round"/>
<polyline points="608.0,555.2 620.0,556.2 632.1,562.2 642.1,568.2 652.1,574.2 662.1,580.2 670.1,584.2 680.2,586.2 690.2,584.2 700.2,586.2 712.2,590.2 724.2,592.2 736.3,590.2 744.3,592.2" fill="none" stroke="#fff" stroke-width="5.3" stroke-linecap="round"/>
<polyline points="666.1,583.2 660.1,596.2 662.1,608.3 670.1,614.3" fill="none" stroke="#fff" stroke-width="5.8" stroke-linecap="round"/>
<polyline points="688.2,584.2 692.2,596.2 686.2,602.2" fill="none" stroke="#fff" stroke-width="3.8" stroke-linecap="round"/>
<polyline points="728.3,594.2 712.2,604.2 700.2,616.3 694.2,620.3" fill="none" stroke="#fff" stroke-width="4.3" stroke-linecap="round"/>
<polyline points="620.0,556.2 614.0,574.2" fill="none" stroke="#fff" stroke-width="5.8" stroke-linecap="round"/>
<polyline points="690.2,528.1 688.2,540.1 694.2,556.2 700.2,564.2 708.2,568.2 720.2,572.2 732.3,575.2 740.3,580.2 744.3,586.2" fill="none" stroke="#fff" stroke-width="4.0" stroke-linecap="round"/>
<polyline points="652.1,574.2 656.1,568.2" fill="none" stroke="#fff" stroke-width="3.3" stroke-linecap="round"/>
<polyline points="708.2,589.2 706.2,580.2" fill="none" stroke="#fff" stroke-width="3.3" stroke-linecap="round"/>
<polyline points="684.2,585.2 682.2,578.2" fill="none" stroke="#fff" stroke-width="3.3" stroke-linecap="round"/>
<polyline points="549.0,760.0 549.0,775.0 556.5,780.0 561.5,790.0" fill="none" stroke="#fff" stroke-width="3.0" stroke-linecap="round"/>
<polyline points="561.5,790.0 566.5,797.5 579.0,802.5 594.0,798.8 604.0,802.5 621.5,801.2 636.5,805.0 649.0,812.5 656.5,815.0 669.0,802.5" fill="none" stroke="#fff" stroke-width="5.3" stroke-linecap="round"/>
<polyline points="579.0,802.5 584.0,807.5 579.0,820.0 574.0,835.0 574.0,850.0" fill="none" stroke="#fff" stroke-width="3.0" stroke-linecap="round"/>
<polyline points="594.0,798.8 589.0,785.0 594.0,780.0" fill="none" stroke="#fff" stroke-width="3.0" stroke-linecap="round"/>
<polyline points="621.5,801.2 629.0,790.0" fill="none" stroke="#fff" stroke-width="3.0" stroke-linecap="round"/>
<polyline points="636.5,805.0 626.5,822.5 614.0,825.0" fill="none" stroke="#fff" stroke-width="3.0" stroke-linecap="round"/>
<polyline points="571.5,732.5 574.0,750.0 575.2,765.0 569.0,775.0 559.0,782.5" fill="none" stroke="#fff" stroke-width="2.6" stroke-linecap="round"/>
<polyline points="589.2,913.3 593.7,908.7 591.5,906.4 594.9,900.7 602.9,898.4 614.4,897.3 618.9,896.1 621.2,897.3" fill="none" stroke="#fff" stroke-width="2.8" stroke-linecap="round"/>
</g>
<g fill="#222" font-size="11.5" text-anchor="middle" clip-path="url(#mc)">
<text x="291.62" y="151.00" textLength="62.35" lengthAdjust="spacingAndGlyphs">Hawkesbury</text>
<text x="236.25" y="270.50" textLength="103.10" lengthAdjust="spacingAndGlyphs">Richmond - Windsor</text>
<text x="385.62" y="267.75" textLength="59.35" lengthAdjust="spacingAndGlyphs">Rouse Hill -</text>
<text x="386.75" y="280.50" textLength="68.10" lengthAdjust="spacingAndGlyphs">McGraths Hill</text>
<text x="543.12" y="261.00" textLength="119.85" lengthAdjust="spacingAndGlyphs">Dural - Wisemans Ferry</text>
<text x="674.88" y="296.50" textLength="42.35" lengthAdjust="spacingAndGlyphs">Hornsby</text>
<text x="857.00" y="144.25" textLength="40.10" lengthAdjust="spacingAndGlyphs">Gosford</text>
<text x="852.62" y="346.50" textLength="43.85" lengthAdjust="spacingAndGlyphs">Pittwater</text>
<text x="792.50" y="397.25" textLength="52.60" lengthAdjust="spacingAndGlyphs">Warringah</text>
<text x="392.88" y="395.25" textLength="89.85" lengthAdjust="spacingAndGlyphs">Blacktown - North</text>
<text x="312.12" y="454.75" textLength="62.35" lengthAdjust="spacingAndGlyphs">Mount Druitt</text>
<text x="415.00" y="477.75" textLength="53.60" lengthAdjust="spacingAndGlyphs">Blacktown</text>
<text x="199.25" y="493.50" textLength="35.60" lengthAdjust="spacingAndGlyphs">Penrith</text>
<text x="270.62" y="501.50" textLength="44.35" lengthAdjust="spacingAndGlyphs">St Marys</text>
<text x="519.62" y="419.75" textLength="75.35" lengthAdjust="spacingAndGlyphs">Baulkham Hills</text>
<text x="615.50" y="439.75" textLength="42.60" lengthAdjust="spacingAndGlyphs">Pennant</text>
<text x="613.88" y="452.75" textLength="29.35" lengthAdjust="spacingAndGlyphs">Hills -</text>
<text x="615.25" y="466.50" textLength="34.60" lengthAdjust="spacingAndGlyphs">Epping</text>
<text x="698.25" y="431.50" textLength="55.60" lengthAdjust="spacingAndGlyphs">Ku-ring-gai</text>
<text x="508.12" y="514.00" textLength="56.35" lengthAdjust="spacingAndGlyphs">Parramatta</text>
<text x="573.75" y="519.75" textLength="55.10" lengthAdjust="spacingAndGlyphs">Carlingford</text>
<text x="649.38" y="514.00" textLength="33.85" lengthAdjust="spacingAndGlyphs">Ryde -</text>
<text x="650.88" y="527.25" textLength="59.35" lengthAdjust="spacingAndGlyphs">Hunters Hill</text>
<text x="737.62" y="524.75" textLength="64.35" lengthAdjust="spacingAndGlyphs">Chatswood -</text>
<text x="737.38" y="538.00" textLength="54.85" lengthAdjust="spacingAndGlyphs">Lane Cove</text>
<text x="798.10" y="558.00" textLength="76.40" lengthAdjust="spacingAndGlyphs">North Sydney -</text>
<text x="799.15" y="570.20" textLength="42.90" lengthAdjust="spacingAndGlyphs">Mosman</text>
<text x="847.75" y="517.25" textLength="30.10" lengthAdjust="spacingAndGlyphs">Manly</text>
<text x="501.75" y="589.75" textLength="63.60" lengthAdjust="spacingAndGlyphs">Merrylands -</text>
<text x="503.12" y="602.25" textLength="46.35" lengthAdjust="spacingAndGlyphs">Guildford</text>
<text x="578.62" y="596.50" textLength="36.35" lengthAdjust="spacingAndGlyphs">Auburn</text>
<text x="637.12" y="590.50" textLength="39.35" lengthAdjust="spacingAndGlyphs">Canada</text>
<text x="637.12" y="603.00" textLength="19.35" lengthAdjust="spacingAndGlyphs">Bay</text>
<text x="419.75" y="620.25" textLength="41.10" lengthAdjust="spacingAndGlyphs">Fairfield</text>
<text x="634.38" y="629.00" textLength="57.35" lengthAdjust="spacingAndGlyphs">Strathfield -</text>
<text x="634.62" y="642.25" textLength="51.85" lengthAdjust="spacingAndGlyphs">Burwood -</text>
<text x="636.12" y="654.75" textLength="39.85" lengthAdjust="spacingAndGlyphs">Ashfield</text>
<text x="725.88" y="623.00" textLength="51.85" lengthAdjust="spacingAndGlyphs">Leichhardt</text>
<text x="757.75" y="636.00" textLength="38.10" lengthAdjust="spacingAndGlyphs">Sydney</text>
<text x="756.50" y="649.00" textLength="25.60" lengthAdjust="spacingAndGlyphs">Inner</text>
<text x="757.75" y="661.75" textLength="19.10" lengthAdjust="spacingAndGlyphs">City</text>
<text x="710.25" y="656.50" textLength="64.10" lengthAdjust="spacingAndGlyphs">Marrickville -</text>
<text x="710.25" y="669.75" textLength="62.10" lengthAdjust="spacingAndGlyphs">Sydenham -</text>
<text x="712.12" y="682.25" textLength="54.35" lengthAdjust="spacingAndGlyphs">Petersham</text>
<text x="905.12" y="638.50" textLength="122.35" lengthAdjust="spacingAndGlyphs">Eastern Suburbs - North</text>
<text x="628.12" y="693.50" textLength="56.35" lengthAdjust="spacingAndGlyphs">Canterbury</text>
<text x="530.75" y="698.50" textLength="55.60" lengthAdjust="spacingAndGlyphs">Bankstown</text>
<text x="755.25" y="724.25" textLength="35.60" lengthAdjust="spacingAndGlyphs">Botany</text>
<text x="680.75" y="730.25" textLength="50.10" lengthAdjust="spacingAndGlyphs">Kogarah -</text>
<text x="682.00" y="743.50" textLength="47.60" lengthAdjust="spacingAndGlyphs">Rockdale</text>
<text x="446.62" y="737.75" textLength="46.35" lengthAdjust="spacingAndGlyphs">Liverpool</text>
<text x="875.88" y="739.75" textLength="124.85" lengthAdjust="spacingAndGlyphs">Eastern Suburbs - South</text>
<text x="606.88" y="754.25" textLength="47.35" lengthAdjust="spacingAndGlyphs">Hurstville</text>
<text x="330.38" y="800.50" textLength="72.35" lengthAdjust="spacingAndGlyphs">Campbelltown</text>
<text x="94.25" y="802.50" textLength="54.60" lengthAdjust="spacingAndGlyphs">Wollondilly</text>
<text x="204.75" y="854.25" textLength="43.60" lengthAdjust="spacingAndGlyphs">Camden</text>
<text x="558.38" y="865.25" textLength="104.35" lengthAdjust="spacingAndGlyphs">Sutherland - Menai -</text>
<text x="559.62" y="877.75" textLength="51.85" lengthAdjust="spacingAndGlyphs">Heathcote</text>
<text x="854.75" y="846.75" textLength="156.10" lengthAdjust="spacingAndGlyphs">Cronulla - Miranda - Caringbah</text>
</g>
<g fill="#222" stroke="#222" stroke-width="0.35" font-size="12" text-anchor="middle">
<text x="293.75" y="181.45" textLength="9.50" lengthAdjust="spacingAndGlyphs">25</text>
<text x="237.12" y="296.70" textLength="9.75" lengthAdjust="spacingAndGlyphs">38</text>
<text x="388.38" y="306.70" textLength="9.75" lengthAdjust="spacingAndGlyphs">38</text>
<text x="541.12" y="288.45" textLength="10.75" lengthAdjust="spacingAndGlyphs">49</text>
<text x="665.12" y="326.70" textLength="14.25" lengthAdjust="spacingAndGlyphs">348</text>
<text x="861.62" y="164.70" textLength="14.25" lengthAdjust="spacingAndGlyphs">320</text>
<text x="856.00" y="372.20" textLength="13.00" lengthAdjust="spacingAndGlyphs">231</text>
<text x="792.25" y="425.20" textLength="14.00" lengthAdjust="spacingAndGlyphs">630</text>
<text x="406.50" y="415.95" textLength="10.00" lengthAdjust="spacingAndGlyphs">80</text>
<text x="314.00" y="485.95" textLength="8.50" lengthAdjust="spacingAndGlyphs">31</text>
<text x="420.38" y="528.95" textLength="9.75" lengthAdjust="spacingAndGlyphs">80</text>
<text x="199.25" y="520.20" textLength="10.00" lengthAdjust="spacingAndGlyphs">85</text>
<text x="270.38" y="532.20" textLength="8.75" lengthAdjust="spacingAndGlyphs">18</text>
<text x="516.62" y="445.45" textLength="14.25" lengthAdjust="spacingAndGlyphs">250</text>
<text x="616.50" y="489.70" textLength="9.50" lengthAdjust="spacingAndGlyphs">70</text>
<text x="700.25" y="454.70" textLength="20.50" lengthAdjust="spacingAndGlyphs">4,097</text>
<text x="509.38" y="541.70" textLength="12.75" lengthAdjust="spacingAndGlyphs">106</text>
<text x="579.88" y="542.20" textLength="9.75" lengthAdjust="spacingAndGlyphs">89</text>
<text x="656.88" y="547.70" textLength="14.75" lengthAdjust="spacingAndGlyphs">882</text>
<text x="738.25" y="559.20" textLength="19.00" lengthAdjust="spacingAndGlyphs">1,459</text>
<text x="765.50" y="579.20" textLength="15.50" lengthAdjust="spacingAndGlyphs">1,118</text>
<text x="876.75" y="550.95" textLength="13.00" lengthAdjust="spacingAndGlyphs">198</text>
<text x="503.12" y="630.95" textLength="9.75" lengthAdjust="spacingAndGlyphs">54</text>
<text x="573.75" y="623.45" textLength="10.00" lengthAdjust="spacingAndGlyphs">43</text>
<text x="647.75" y="621.70" textLength="14.00" lengthAdjust="spacingAndGlyphs">241</text>
<text x="668.12" y="656.45" textLength="12.25" lengthAdjust="spacingAndGlyphs">319</text>
<text x="715.62" y="641.45" textLength="13.75" lengthAdjust="spacingAndGlyphs">407</text>
<text x="757.00" y="683.95" textLength="20.50" lengthAdjust="spacingAndGlyphs">2,486</text>
<text x="833.88" y="651.45" textLength="22.75" lengthAdjust="spacingAndGlyphs">22,371</text>
<text x="714.62" y="705.45" textLength="14.25" lengthAdjust="spacingAndGlyphs">280</text>
<text x="634.62" y="713.95" textLength="10.75" lengthAdjust="spacingAndGlyphs">118</text>
<text x="531.75" y="728.45" textLength="10.00" lengthAdjust="spacingAndGlyphs">65</text>
<text x="682.50" y="770.95" textLength="13.50" lengthAdjust="spacingAndGlyphs">286</text>
<text x="766.25" y="747.70" textLength="13.50" lengthAdjust="spacingAndGlyphs">959</text>
<text x="454.62" y="768.45" textLength="9.25" lengthAdjust="spacingAndGlyphs">27</text>
<text x="616.62" y="772.20" textLength="12.75" lengthAdjust="spacingAndGlyphs">216</text>
<text x="421.25" y="657.70" textLength="10.50" lengthAdjust="spacingAndGlyphs">27</text>
<text x="331.50" y="824.20" textLength="10.00" lengthAdjust="spacingAndGlyphs">82</text>
<text x="209.38" y="879.70" textLength="9.75" lengthAdjust="spacingAndGlyphs">52</text>
<text x="553.88" y="847.20" textLength="12.75" lengthAdjust="spacingAndGlyphs">146</text>
<text x="811.75" y="727.70" textLength="20.50" lengthAdjust="spacingAndGlyphs">6,547</text>
<text x="779.38" y="857.70" textLength="14.25" lengthAdjust="spacingAndGlyphs">220</text>
</g>
<g fill="#6b6592" font-size="12.5" font-weight="bold" text-anchor="middle"><text x="938.4" y="508.3" textLength="40.7" lengthAdjust="spacingAndGlyphs">Pacific</text><text x="938" y="522" textLength="38" lengthAdjust="spacingAndGlyphs">Ocean</text></g>
<g>
<rect x="471.3" y="134.1" width="155.3" height="60.2" fill="none" stroke="#777" stroke-width="1"/>
<rect x="484.5" y="152.3" width="128.7" height="7.6" fill="#000"/>
<rect x="486.3" y="154.2" width="13.4" height="4.2" fill="#fff"/>
<rect x="517.3" y="154.2" width="31.1" height="4.2" fill="#fff"/>
<g font-weight="bold" fill="#111">
<text x="479.2" y="146.9" font-size="9.4" textLength="6" lengthAdjust="spacingAndGlyphs">0</text>
<text x="606.2" y="146.9" font-size="9.4" textLength="11" lengthAdjust="spacingAndGlyphs">10</text>
<text x="548.8" y="173.6" font-size="10.2" text-anchor="middle" textLength="51.3" lengthAdjust="spacingAndGlyphs">kilometres</text>
<text x="548.8" y="189.5" font-size="10.2" text-anchor="middle" textLength="75.7" lengthAdjust="spacingAndGlyphs">Scale 1:309,300</text>
</g></g>
<g><rect x="184.5" y="556.4" width="172" height="212.8" fill="#fff" stroke="#888" stroke-width="1"/>
<g fill="#2a2a2a" font-size="11.5">
<text x="188" y="571.3" textLength="164.4" lengthAdjust="spacingAndGlyphs">Jewish population distribution</text>
<text x="188" y="584.8" textLength="164.6" lengthAdjust="spacingAndGlyphs">Adjusted 2016 Census data, SA3</text>
<rect x="187.4" y="591.0" width="14.2" height="14.2" fill="#5050ff" stroke="#666" stroke-width="0.8"/>
<text x="240.6" y="606.0" text-anchor="end">5,000</text>
<text x="247.5" y="606.0">to</text>
<text x="297.3" y="606.0" text-anchor="end">25,000</text>
<rect x="187.4" y="616.1" width="14.2" height="14.2" fill="#7270ff" stroke="#666" stroke-width="0.8"/>
<text x="240.6" y="631.1" text-anchor="end">1,000</text>
<text x="247.5" y="631.1">to</text>
<text x="297.3" y="631.1" text-anchor="end">4,999</text>
<rect x="187.4" y="641.2" width="14.2" height="14.2" fill="#9080ff" stroke="#666" stroke-width="0.8"/>
<text x="240.6" y="656.2" text-anchor="end">500</text>
<text x="247.5" y="656.2">to</text>
<text x="297.3" y="656.2" text-anchor="end">999</text>
<rect x="187.4" y="666.3" width="14.2" height="14.2" fill="#b0a0ff" stroke="#666" stroke-width="0.8"/>
<text x="240.6" y="681.3" text-anchor="end">250</text>
<text x="247.5" y="681.3">to</text>
<text x="297.3" y="681.3" text-anchor="end">499</text>
<rect x="187.4" y="691.4" width="14.2" height="14.2" fill="#c0c0ff" stroke="#666" stroke-width="0.8"/>
<text x="240.6" y="706.4" text-anchor="end">100</text>
<text x="247.5" y="706.4">to</text>
<text x="297.3" y="706.4" text-anchor="end">249</text>
<rect x="187.4" y="716.5" width="14.2" height="14.2" fill="#e0d0ff" stroke="#666" stroke-width="0.8"/>
<text x="240.6" y="731.5" text-anchor="end">50</text>
<text x="247.5" y="731.5">to</text>
<text x="297.3" y="731.5" text-anchor="end">99</text>
<rect x="187.4" y="741.6" width="14.2" height="14.2" fill="#ffe8ff" stroke="#666" stroke-width="0.8"/>
<text x="240.6" y="756.6" text-anchor="end">0</text>
<text x="247.5" y="756.6">to</text>
<text x="297.3" y="756.6" text-anchor="end">49</text>
</g></g>
</svg>
</body></html>
